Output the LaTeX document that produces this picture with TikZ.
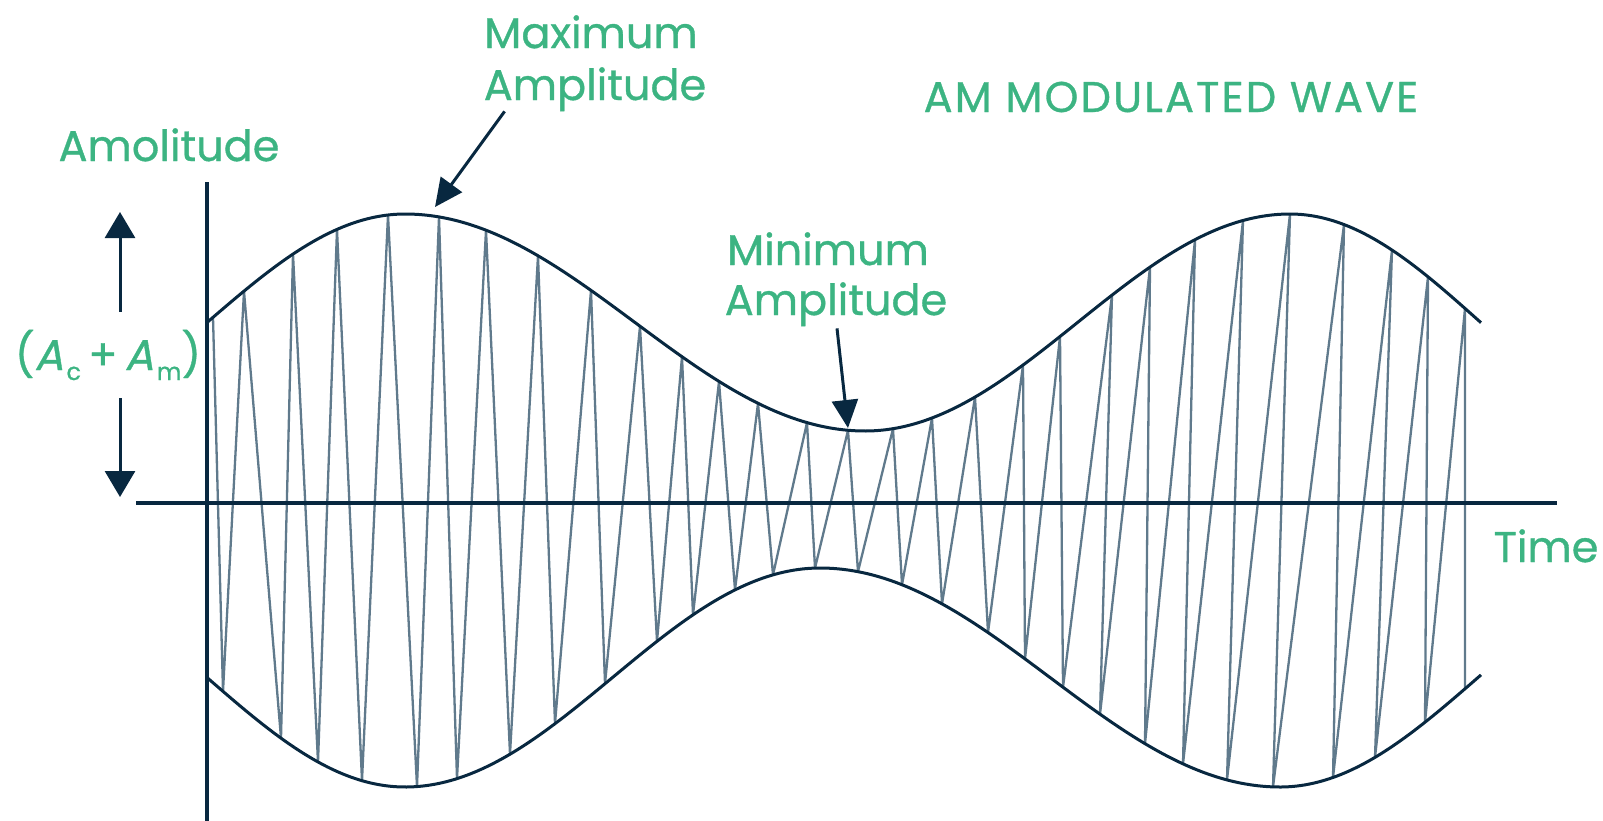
\documentclass[tikz,border=0pt]{standalone}
\usepackage{fontspec}
\setmainfont{Poppins}[FakeBold=0.8]
\newfontfamily\slantfont{Poppins}[FakeSlant=0.2,FakeBold=0.8]
\usetikzlibrary{arrows.meta,calc}
\definecolor{lblgreen}{RGB}{60,180,130}
\definecolor{navy}{RGB}{8,40,64}
\definecolor{carrier}{RGB}{96,122,140}
\begin{document}
\begin{tikzpicture}[x=1pt,y=-1pt,
  declare function={
    phU(\x)=(\x<405) ? (\x-405)/2.2 : ((\x<865) ? (\x-405)/460*180 : ((\x<1290) ? 180+(\x-865)/425*180 : 360+(\x-1290)/2.12));
    phL(\x)=(\x<405) ? (\x-405)/2.2 : ((\x<820) ? (\x-405)/415*180 : ((\x<1280) ? 180+(\x-820)/460*180 : 360+(\x-1280)/2.2));
    yU(\x)=500-(177.5+108.5*cos(phU(\x)));
    yL(\x)=500+(177.5+109.5*cos(phL(\x)));
  },
  lbl/.style={text=lblgreen, font=\fontsize{43}{52}\selectfont, inner sep=0pt, anchor=base},
  axisline/.style={draw=navy, line width=3.5pt},
  envline/.style={draw=navy, line width=3pt},
  carrierline/.style={draw=carrier, line width=2.3pt, line join=round},
  pointer/.style={draw=navy, line width=3pt, -{Triangle[length=28pt,width=26pt]}},
  vpointer/.style={draw=navy, line width=3pt, -{Triangle[length=26pt,width=30pt]}}]
\useasboundingbox (0,0) rectangle (1603,820);

% carrier
\draw[carrierline] (213,{yU(213)})
  \foreach \l/\u in {223/244,281/293,318/337,362/388,417/439,457/486,510/538,555/591,605/640,657/682,693/719,735/758,773/807,815/848,858/893,902/932,942/975,988/1023,1025/1060,1063/1112,1100/1150,1145/1195,1183/1243,1227/1290,1273/1344,1333/1392,1375/1428,1425/1465}
    { -- (\l,{yL(\l)}) -- (\u,{yU(\u)}) }
  -- (1465,{yL(1465)});

% envelopes
\draw[envline] plot[domain=207:1481,samples=320,variable=\t] (\t,{yU(\t)});
\draw[envline] plot[domain=207:1481,samples=320,variable=\t] (\t,{yL(\t)});

% axes
\coordinate (yaxtop) at (207,182);
\coordinate (yaxbot) at (207,822);
\coordinate (xaxl) at (136,503);
\coordinate (xaxr) at (1557,503);
\draw[axisline] (yaxtop) -- (yaxbot);
\draw[axisline] (xaxl) -- (xaxr);

% labels
\node[lbl] (maxl1) at (591,48) {Maximum};
\node[lbl] (maxl2) at (595,100) {Amplitude};
\node[lbl] (minl1) at (828,265) {Minimum};
\node[lbl] (minl2) at (836,315) {Amplitude};
\node[lbl] (ylbl) at (169,161) {Amolitude};
\node[lbl, font=\fontsize{43}{52}\selectfont\addfontfeatures{LetterSpace=5}] (title) at (1171,112) {AM MODULATED WAVE};
\node[lbl] (tlbl) at (1546,562) {Time};
\node[lbl, outer ysep=18pt] (aclbl) at (108,370) {({\slantfont A}\kern3pt\raisebox{-10pt}{\fontsize{24}{24}\selectfont c}\,+\,{\slantfont A}\kern3pt\raisebox{-10pt}{\fontsize{24}{24}\selectfont m})};

% pointers
\coordinate (maxpt) at (435,207);
\coordinate (minpt) at (848,428);
\coordinate (acup) at (120,212);
\coordinate (acdn) at (120,497);
\draw[pointer] ($(maxl2.south west)+(21,0)$) -- (maxpt);
\draw[pointer] ($(minl2.south)+(1,2)$) -- (minpt);
\draw[vpointer] (aclbl.north -| acup) -- (acup);
\draw[vpointer] (aclbl.south -| acdn) -- (acdn);
\end{tikzpicture}
\end{document}
